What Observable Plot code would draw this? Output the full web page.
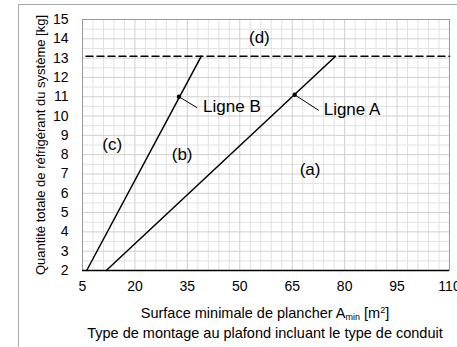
<!DOCTYPE html>
<html>
<head>
<meta charset="utf-8">
<script src="https://cdn.jsdelivr.net/npm/d3@7"></script>
<script src="https://cdn.jsdelivr.net/npm/@observablehq/plot@0.6"></script>
<style>
  html, body { margin: 0; padding: 0; background: #fff; }
  body { width: 457px; height: 347px; overflow: hidden; position: relative; font-family: "Liberation Sans", Arial, sans-serif; }
  #outer { position: absolute; left: 18px; top: 4px; width: 480px; height: 400px; border-left: 1px solid #a8a8a8; border-top: 1px solid #a8a8a8; pointer-events: none; }
  .xtitle { position: absolute; left: 65px; width: 400px; text-align: center; white-space: nowrap; font-size: 14.5px; color: #000; line-height: 20px; }
  .xtitle sub { font-size: 9px; vertical-align: -2px; line-height: 0; }
  .xtitle sup { font-size: 9px; vertical-align: 5px; line-height: 0; }
</style>
</head>
<body>
<div id="chart"></div>
<div class="xtitle" style="top:303px">Surface minimale de plancher A<sub>min</sub> [m<sup>2</sup>]</div>
<div class="xtitle" style="top:323px">Type de montage au plafond incluant le type de conduit</div>
<div id="outer"></div>
<script>
// Axis ticks
const xTicks = [5, 20, 35, 50, 65, 80, 95, 110];
const yTicks = [2, 3, 4, 5, 6, 7, 8, 9, 10, 11, 12, 13, 14, 15];
const xGrid = d3.range(5, 110.01, 3);
const yGrid = d3.range(2, 15.01, 0.5);

// Lines (x = surface m², y = charge kg)
const lineAx = [11.8, 77.4];
const lineAy = [2, 13.1];
const lineBx = [6.2, 39];
const lineBy = [2, 13.1];
const limitY = 13.1;
const limitX = [6, 110];

// Marked points and leaders
const pointNames = ["Ligne A", "Ligne B"];
const pointX = [65.7, 32.6];
const pointY = [11.1, 11.0];
const leaderEndX = [72.6, 37.8];
const leaderEndY = [10.29, 10.43];
const labelX = [74.0, 39.5];
const labelY = [10.34, 10.51];

// Zone labels
const zoneNames = ["(a)", "(b)", "(c)", "(d)"];
const zoneX = [70.1, 33.5, 13.5, 55.6];
const zoneY = [7.25, 8.0, 8.5, 14.07];

const yTitle = "Quantité totale de réfrigérant du système [kg]";

const lineA = lineAx.map((x, i) => ({x, y: lineAy[i]}));
const lineB = lineBx.map((x, i) => ({x, y: lineBy[i]}));
const limit = limitX.map(x => ({x, y: limitY}));
const pts = pointNames.map((n, i) => ({n, x: pointX[i], y: pointY[i], x2: leaderEndX[i], y2: leaderEndY[i], lx: labelX[i], ly: labelY[i]}));
const zones = zoneNames.map((n, i) => ({n, x: zoneX[i], y: zoneY[i]}));

const chart = Plot.plot({
  width: 457,
  height: 297,
  marginLeft: 82,
  marginRight: 8,
  marginTop: 19,
  marginBottom: 27,
  style: {fontFamily: "Liberation Sans, Arial, sans-serif", color: "#000", background: "transparent", overflow: "visible"},
  x: {domain: [5, 110]},
  y: {domain: [2, 15]},
  marks: [
    Plot.ruleX(xGrid.filter(d => (d - 5) % 15 !== 0), {stroke: "#e2e2e2", strokeWidth: 1}),
    Plot.ruleY(yGrid.filter(d => d % 1 !== 0), {stroke: "#e2e2e2", strokeWidth: 1}),
    Plot.ruleX(xGrid.filter(d => (d - 5) % 15 === 0), {stroke: "#cfcfcf", strokeWidth: 1}),
    Plot.ruleY(yGrid.filter(d => d % 1 === 0), {stroke: "#cfcfcf", strokeWidth: 1}),
    Plot.frame({stroke: "#9a9a9a", strokeWidth: 1}),
    Plot.ruleY([2], {stroke: "#000", strokeWidth: 1.3}),
    Plot.axisX({ticks: xTicks, tickSize: 0, tickPadding: 11, fontSize: 14, label: null}),
    Plot.axisY({ticks: yTicks, tickSize: 0, tickPadding: 14, fontSize: 14, label: null}),
    Plot.line(limit, {x: "x", y: "y", stroke: "#000", strokeWidth: 1.5, strokeDasharray: "7,4"}),
    Plot.line(lineA, {x: "x", y: "y", stroke: "#000", strokeWidth: 1.5}),
    Plot.line(lineB, {x: "x", y: "y", stroke: "#000", strokeWidth: 1.5}),
    Plot.link(pts, {x1: "x", y1: "y", x2: "x2", y2: "y2", stroke: "#000", strokeWidth: 1}),
    Plot.dot(pts, {x: "x", y: "y", r: 2.2, fill: "#000"}),
    Plot.text(pts, {x: "lx", y: "ly", text: "n", textAnchor: "start", fontSize: 17, fill: "#000"}),
    Plot.text(zones, {x: "x", y: "y", text: "n", fontSize: 17, fill: "#000"}),
    Plot.text([yTitle], {frameAnchor: "left", textAnchor: "middle", rotate: -90, dx: -42, fontSize: 13, fill: "#000"})
  ]
});
document.getElementById("chart").appendChild(chart);
</script>
</body>
</html>
